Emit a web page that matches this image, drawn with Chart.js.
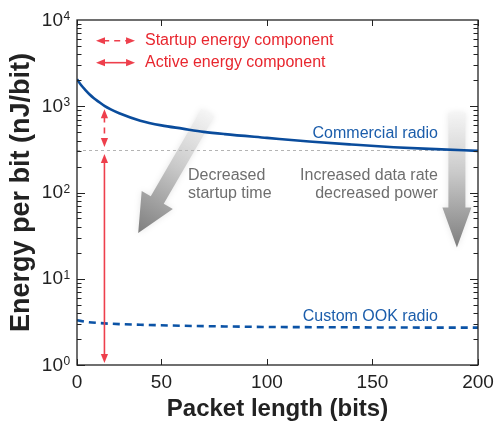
<!DOCTYPE html>
<html>
<head>
<meta charset="utf-8">
<script src="https://cdn.jsdelivr.net/npm/chart.js@4/dist/chart.umd.min.js"></script>
<style>
  html, body { margin: 0; padding: 0; background: #fff; }
  canvas { display: block; }
</style>
</head>
<body>
<canvas id="c" width="496" height="422"></canvas>
<script>
// Packet length (bits) and energy per bit (nJ/bit)
const packetBits = [10, 12, 14, 16, 18, 20, 23, 26, 30, 40, 50, 60, 70, 80, 100, 120, 140, 160, 180, 200];
const commercialEnergy = [2050, 1750, 1540, 1370, 1240, 1140, 1010, 920, 830, 680, 600, 550, 505, 475, 430, 390, 360, 335, 318, 304];
const ookBits = [10, 15, 20, 30, 40, 60, 80, 100, 130, 160, 200];
const ookEnergy = [3.3, 3.15, 3.07, 2.98, 2.93, 2.85, 2.8, 2.76, 2.74, 2.72, 2.71];

// Axis ticks
const xTickValues = [10, 50, 100, 150, 200];
const xTickLabels = ['0', '50', '100', '150', '200'];
const yDecades = [0, 1, 2, 3, 4];

// Active-energy floor and the packet length where the components are marked
const activeFloor = 310;
const markerBits = 23;
const markerTop = 1000;

const FONT = '"Liberation Sans", Arial, Helvetica, sans-serif';
const RED = '#e8262e';
const RED_LINE = '#ee3f4c';
const BLUE_TEXT = '#1b5dab';
const GRAY_TEXT = '#6e6e6e';
const INK = '#222222';

function arrowHead(ctx, x, y, dx, dy, len, half) {
  const bx = x - dx * len, by = y - dy * len;
  ctx.beginPath();
  ctx.moveTo(x, y);
  ctx.lineTo(bx - dy * half, by + dx * half);
  ctx.lineTo(bx + dy * half, by - dx * half);
  ctx.closePath();
  ctx.fill();
}

// Double-headed arrow between two points, solid or dashed
function doubleArrow(ctx, x0, y0, x1, y1, dashed) {
  const L = Math.hypot(x1 - x0, y1 - y0);
  const dx = (x1 - x0) / L, dy = (y1 - y0) / L;
  const hl = 9, hw = 3.6;
  ctx.save();
  ctx.strokeStyle = RED_LINE;
  ctx.fillStyle = RED_LINE;
  ctx.lineWidth = 1.6;
  ctx.setLineDash(dashed ? [6, 5] : []);
  ctx.beginPath();
  ctx.moveTo(x0 + dx * hl * 0.8, y0 + dy * hl * 0.8);
  ctx.lineTo(x1 - dx * hl * 0.8, y1 - dy * hl * 0.8);
  ctx.stroke();
  ctx.setLineDash([]);
  arrowHead(ctx, x1, y1, dx, dy, hl, hw);
  arrowHead(ctx, x0, y0, -dx, -dy, hl, hw);
  ctx.restore();
}

// Wide shaded arrow used for the trend hints
function blockArrow(ctx, x0, y0, x1, y1, shaftW, headW, headL) {
  const L = Math.hypot(x1 - x0, y1 - y0);
  const ux = (x1 - x0) / L, uy = (y1 - y0) / L;
  const nx = -uy, ny = ux;
  const hx = x1 - ux * headL, hy = y1 - uy * headL;
  const g = ctx.createLinearGradient(x0, y0, x1, y1);
  g.addColorStop(0, 'rgba(245,245,245,0.9)');
  g.addColorStop(0.45, '#c9c9c9');
  g.addColorStop(1, '#7e7e7e');
  ctx.save();
  ctx.shadowColor = 'rgba(0,0,0,0.10)';
  ctx.shadowBlur = 6;
  ctx.fillStyle = g;
  ctx.beginPath();
  ctx.moveTo(x0 + nx * shaftW / 2, y0 + ny * shaftW / 2);
  ctx.lineTo(hx + nx * shaftW / 2, hy + ny * shaftW / 2);
  ctx.lineTo(hx + nx * headW / 2, hy + ny * headW / 2);
  ctx.lineTo(x1, y1);
  ctx.lineTo(hx - nx * headW / 2, hy - ny * headW / 2);
  ctx.lineTo(hx - nx * shaftW / 2, hy - ny * shaftW / 2);
  ctx.lineTo(x0 - nx * shaftW / 2, y0 - ny * shaftW / 2);
  ctx.closePath();
  ctx.fill();
  ctx.restore();
}

function text(ctx, str, x, y, color, size, align) {
  ctx.fillStyle = color;
  ctx.font = size + 'px ' + FONT;
  ctx.textAlign = align;
  ctx.textBaseline = 'middle';
  ctx.fillText(str, x, y);
}

const annotations = {
  id: 'annotations',
  beforeDatasetsDraw(chart) {
    const { ctx, chartArea: a, scales: { x, y } } = chart;
    // trend arrows
    blockArrow(ctx, x.getPixelForValue(72), y.getPixelForValue(840),
                    x.getPixelForValue(39), y.getPixelForValue(34), 15, 36, 38);
    blockArrow(ctx, x.getPixelForValue(190), y.getPixelForValue(840),
                    x.getPixelForValue(190), y.getPixelForValue(23), 17, 29, 40);
    // active-energy floor
    ctx.save();
    ctx.strokeStyle = '#b4b4b4';
    ctx.lineWidth = 1;
    ctx.setLineDash([3, 3]);
    const ty = Math.round(y.getPixelForValue(activeFloor)) + 0.5;
    ctx.beginPath();
    ctx.moveTo(a.left, ty);
    ctx.lineTo(a.right, ty);
    ctx.stroke();
    ctx.restore();
  },
  afterDatasetsDraw(chart) {
    const { ctx, chartArea: a, scales: { x, y } } = chart;
    ctx.save();

    // energy components at the marked packet length
    const mx = x.getPixelForValue(markerBits);
    const fy = y.getPixelForValue(activeFloor);
    doubleArrow(ctx, mx, fy + 4, mx, y.getPixelForValue(1) - 2, false);
    doubleArrow(ctx, mx, y.getPixelForValue(markerTop) + 3, mx, fy - 3, true);

    // key
    const kx0 = x.getPixelForValue(19), kx1 = x.getPixelForValue(37.5), kt = x.getPixelForValue(42.2);
    const k1 = y.getPixelForValue(5750), k2 = y.getPixelForValue(3200);
    doubleArrow(ctx, kx0, k1, kx1, k1, true);
    doubleArrow(ctx, kx0, k2, kx1, k2, false);
    text(ctx, 'Startup energy component', kt, k1, RED, 16, 'left');
    text(ctx, 'Active energy component', kt, k2, RED, 16, 'left');

    // series names
    text(ctx, 'Commercial radio', x.getPixelForValue(181), y.getPixelForValue(480), BLUE_TEXT, 16, 'right');
    text(ctx, 'Custom OOK radio', x.getPixelForValue(181), y.getPixelForValue(3.6), BLUE_TEXT, 16, 'right');

    // trend notes
    const dx = x.getPixelForValue(62.6), rx = x.getPixelForValue(181);
    const l1 = y.getPixelForValue(155), l2 = y.getPixelForValue(96);
    text(ctx, 'Decreased', dx, l1, GRAY_TEXT, 16, 'left');
    text(ctx, 'startup time', dx, l2, GRAY_TEXT, 16, 'left');
    text(ctx, 'Increased data rate', rx, l1, GRAY_TEXT, 16, 'right');
    text(ctx, 'decreased power', rx, l2, GRAY_TEXT, 16, 'right');

    // frame
    ctx.strokeStyle = INK;
    ctx.lineWidth = 1.3;
    ctx.strokeRect(a.left, a.top, a.right - a.left, a.bottom - a.top);

    // inward ticks
    ctx.lineWidth = 1;
    ctx.beginPath();
    xTickValues.forEach(v => {
      const px = Math.round(x.getPixelForValue(v)) + 0.5;
      ctx.moveTo(px, a.bottom); ctx.lineTo(px, a.bottom - 6);
      ctx.moveTo(px, a.top); ctx.lineTo(px, a.top + 6);
    });
    yDecades.slice(0, -1).forEach(d => {
      for (let m = 1; m <= 9; m++) {
        const py = Math.round(y.getPixelForValue(m * Math.pow(10, d))) + 0.5;
        const len = m === 1 ? 8 : 4.5;
        ctx.moveTo(a.left, py); ctx.lineTo(a.left + len, py);
        ctx.moveTo(a.right, py); ctx.lineTo(a.right - len, py);
      }
    });
    ctx.stroke();

    // tick labels
    xTickValues.forEach((v, i) => {
      text(ctx, xTickLabels[i], x.getPixelForValue(v), a.bottom + 18, INK, 19, 'center');
    });
    yDecades.forEach(d => {
      const py = y.getPixelForValue(Math.pow(10, d));
      text(ctx, '10', 63, py + 0.5, INK, 19, 'right');
      ctx.font = '12px ' + FONT;
      ctx.textAlign = 'left';
      ctx.textBaseline = 'alphabetic';
      ctx.fillText(String(d), 63.5, py);
    });
    ctx.restore();
  }
};

new Chart(document.getElementById('c'), {
  type: 'line',
  data: {
    datasets: [
      {
        label: 'Commercial radio',
        data: packetBits.map((b, i) => ({ x: b, y: commercialEnergy[i] })),
        borderColor: '#0a4c9c',
        borderWidth: 2.6,
        pointRadius: 0,
        cubicInterpolationMode: 'monotone',
        fill: false
      },
      {
        label: 'Custom OOK radio',
        data: ookBits.map((b, i) => ({ x: b, y: ookEnergy[i] })),
        borderColor: '#0b53a6',
        borderWidth: 2.6,
        borderDash: [7, 5],
        pointRadius: 0,
        cubicInterpolationMode: 'monotone',
        fill: false
      }
    ]
  },
  options: {
    responsive: false,
    animation: false,
    devicePixelRatio: 1,
    layout: { padding: { top: 20, right: 18, left: 0, bottom: 0 } },
    plugins: { legend: { display: false }, tooltip: { enabled: false } },
    scales: {
      x: {
        type: 'linear',
        min: 10,
        max: 200,
        grid: { display: false },
        border: { display: false },
        ticks: { display: false },
        afterFit(scale) { scale.height = 57; },
        title: {
          display: true,
          text: 'Packet length (bits)',
          color: INK,
          font: { family: FONT, size: 24, weight: 'bold', lineHeight: 1 },
          padding: { top: 0, bottom: 1 }
        }
      },
      y: {
        type: 'logarithmic',
        min: 1,
        max: 10000,
        grid: { display: false },
        border: { display: false },
        ticks: { display: false },
        afterFit(scale) { scale.width = 77; },
        title: {
          display: true,
          text: 'Energy per bit (nJ/bit)',
          color: INK,
          font: { family: FONT, size: 27, weight: 'bold', lineHeight: 1 },
          padding: { top: 8, bottom: 0 }
        }
      }
    }
  },
  plugins: [annotations]
});
</script>
</body>
</html>
